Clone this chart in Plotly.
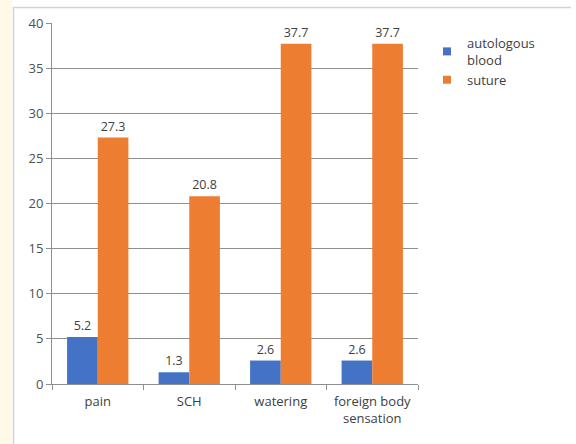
import plotly.graph_objects as go

categories = ["pain", "SCH", "watering", "foreign body<br>sensation"]
autologous_blood = [5.2, 1.3, 2.6, 2.6]
suture = [27.3, 20.8, 37.7, 37.7]
series_names = ["autologous<br>blood", "suture"]
y_ticks = [0, 5, 10, 15, 20, 25, 30, 35, 40]

W, H = 576, 444
ML, MR, MT, MB = 52, 158, 23, 60
PW, PH = W - ML - MR, H - MT - MB

def px(x):
    return (x - ML) / PW

def py(y):
    return (H - MB - y) / PH

FONT = "Open Sans"
TXT = "#404040"
BLUE = "#4472C4"
ORANGE = "#ED7D31"
GRID = "#8f8f8f"

fig = go.Figure()
for name, vals, col in [(series_names[0], autologous_blood, BLUE), (series_names[1], suture, ORANGE)]:
    fig.add_trace(go.Bar(
        x=categories, y=vals, name=name, marker=dict(color=col, line=dict(width=0)),
        text=[f"{v:g}" for v in vals], textposition="outside", cliponaxis=False,
        textfont=dict(family=FONT, size=12.5, color=TXT), showlegend=False,
    ))
    fig.add_trace(go.Scatter(
        x=[None], y=[None], mode="markers", name=name,
        marker=dict(symbol="square", size=8, color=col), showlegend=True,
    ))

fig.update_layout(
    width=W, height=H,
    margin=dict(l=ML, r=MR, t=MT, b=MB, pad=0),
    paper_bgcolor="white", plot_bgcolor="white",
    barmode="group", bargap=0.33, bargroupgap=0,
    font=dict(family=FONT, size=12, color=TXT),
    legend=dict(x=px(427), y=py(28), xanchor="left", yanchor="top",
                font=dict(family=FONT, size=13, color=TXT),
                bgcolor="rgba(0,0,0,0)", itemwidth=30, tracegroupgap=0, valign="middle"),
    xaxis=dict(showline=True, linecolor=GRID, linewidth=1, ticks="outside", tickson="boundaries",
               ticklen=5, tickcolor=GRID, showgrid=False, ticklabelstandoff=5,
               tickfont=dict(family=FONT, size=13, color=TXT)),
    yaxis=dict(range=[0, 40], tickvals=y_ticks, showline=True, linecolor=GRID, linewidth=1,
               ticks="outside", ticklen=5, tickcolor=GRID, showgrid=True, gridcolor=GRID,
               gridwidth=1, zeroline=False,
               tickfont=dict(family=FONT, size=13, color="#505050")),
    shapes=[
        dict(type="rect", xref="paper", yref="paper", x0=px(0), x1=px(12), y0=py(444), y1=py(0),
             fillcolor="#FFF9E8", line=dict(width=0), layer="below"),
        dict(type="line", xref="paper", yref="paper", x0=px(13), x1=px(571), y0=py(7.5), y1=py(7.5),
             line=dict(color="#d4d4d4", width=1.5)),
        dict(type="line", xref="paper", yref="paper", x0=px(13.5), x1=px(13.5), y0=py(7), y1=py(444),
             line=dict(color="#d4d4d4", width=1.5)),
    ],
)

fig.write_html("out.html", config={"displayModeBar": False},
               post_script="document.body.style.margin='0';document.body.style.overflow='hidden';")
